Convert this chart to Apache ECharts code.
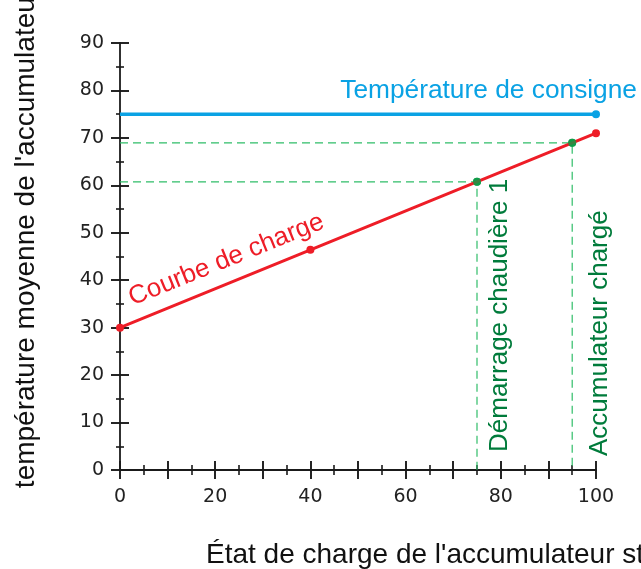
<!DOCTYPE html>
<html>
<head>
<meta charset="utf-8">
<script src="https://cdn.jsdelivr.net/npm/echarts@6/dist/echarts.min.js"></script>
<style>
html,body{margin:0;padding:0;background:#fff;}
#chart{width:641px;height:569px;}
</style>
</head>
<body>
<div id="chart"></div>
<script>
// ---- data ----
const xAxisName = "État de charge de l'accumulateur stratifié";
const yAxisName = "température moyenne de l'accumulateur";
const xTickLabels = [0, 20, 40, 60, 80, 100];
const yTickLabels = [0, 10, 20, 30, 40, 50, 60, 70, 80, 90];

const setpointName = 'Température de consigne';
const setpointX = [0, 100];
const setpointY = [75, 75];

const chargeName = 'Courbe de charge';
const chargeX = [0, 40, 100];
const chargeY = [30, 46.4, 71];

const markerNames = ['Démarrage chaudière 1', 'Accumulateur chargé'];
const markerX = [75, 95];
const markerY = [60.75, 68.95];

// ---- styles ----
const AXIS = '#1a1a1a';
const BLUE = '#0aa2e4';
const RED = '#ee1d27';
const GREEN_LINE = '#2fbd68';
const GREEN_DOT = '#0f9c49';
const GREEN_TEXT = '#007b3b';
const TXT_FONT = '"Liberation Sans", Arial, sans-serif';
const TICK_FONT = '"DejaVu Sans", Verdana, sans-serif';

const chart = echarts.init(document.getElementById('chart'), null, {renderer: 'canvas'});

function baseAxis(isX, outside) {
  return {
    type: 'value',
    gridIndex: 0,
    min: 0,
    max: isX ? 100 : 90,
    interval: 10,
    position: isX ? 'bottom' : 'left',
    axisLine: {show: outside, onZero: false, lineStyle: {color: AXIS, width: 1.8}},
    axisTick: {show: true, inside: !outside, length: 9, lineStyle: {color: AXIS, width: 1.9}},
    minorTick: {show: true, splitNumber: 2, length: isX ? 5 : 4, lineStyle: {color: AXIS, width: 1.6}},
    splitLine: {show: false},
    minorSplitLine: {show: false},
    axisLabel: {show: false},
    nameMoveOverlap: false
  };
}

const x0 = baseAxis(true, true);
x0.axisLabel = {
  show: true, margin: 18, color: '#222', fontSize: 19, fontFamily: TICK_FONT,
  formatter: v => (xTickLabels.indexOf(v) >= 0 ? String(v) : '')
};
x0.name = xAxisName;
x0.nameLocation = 'start';
x0.nameGap = -86;
x0.nameTextStyle = {
  color: '#111', fontSize: 28, fontFamily: TXT_FONT,
  align: 'left', verticalAlign: 'top', padding: [71, 0, 0, 0]
};
const x1 = baseAxis(true, false);

const y0 = baseAxis(false, true);
y0.axisLabel = {
  show: true, margin: 16, color: '#222', fontSize: 19, fontFamily: TICK_FONT,
  formatter: v => (yTickLabels.indexOf(v) >= 0 ? String(v) : '')
};
y0.name = yAxisName;
y0.nameLocation = 'middle';
y0.nameRotate = 90;
y0.nameGap = 80;
y0.nameTextStyle = {
  color: '#111', fontSize: 28, fontFamily: TXT_FONT, padding: [0, 0, 0, 37]
};
const y1 = baseAxis(false, false);

const setpointData = setpointX.map((x, i) => {
  const item = {value: [x, setpointY[i]]};
  if (i === 0) item.symbolSize = 0;
  if (i === setpointX.length - 1) {
    item.label = {
      show: true, formatter: setpointName, position: 'top', distance: 0,
      align: 'right', verticalAlign: 'bottom', offset: [41, -6],
      color: BLUE, fontSize: 26.3, fontFamily: TXT_FONT
    };
  }
  return item;
});

const chargeData = chargeX.map((x, i) => {
  const item = {value: [x, chargeY[i]]};
  if (i === 0) {
    item.label = {
      show: true, formatter: chargeName, position: 'inside', rotate: 22,
      align: 'left', verticalAlign: 'bottom', offset: [20, -10],
      color: RED, fontSize: 26, fontFamily: TXT_FONT
    };
  }
  return item;
});

// offsets are expressed in the rotated label frame
const labelOffsets = [[18, 10], [14, 15]];
const markerSeries = markerX.map((mx, i) => ({
  type: 'line',
  name: markerNames[i],
  xAxisIndex: 0, yAxisIndex: 0,
  z: 3,
  silent: true,
  animation: false,
  symbol: 'circle',
  symbolSize: 8,
  itemStyle: {color: GREEN_DOT},
  lineStyle: {color: GREEN_LINE, width: 1.2, type: [8, 5]},
  data: [
    {value: [0, markerY[i]], symbolSize: 0},
    {value: [mx, markerY[i]]},
    {value: [mx, 0], symbolSize: 0,
      label: {
        show: true, formatter: markerNames[i], position: 'inside', rotate: 90,
        align: 'left', verticalAlign: 'top', offset: labelOffsets[i],
        color: GREEN_TEXT, fontSize: 26, fontFamily: TXT_FONT
      }}
  ]
}));

const option = {
  animation: false,
  backgroundColor: '#ffffff',
  grid: {left: 120, right: 45, top: 43, bottom: 99, containLabel: false, outerBoundsMode: 'none'},
  xAxis: [x0, x1],
  yAxis: [y0, y1],
  series: [
    ...markerSeries,
    {
      type: 'line', name: setpointName, z: 4,
      symbol: 'circle', symbolSize: 8,
      itemStyle: {color: BLUE},
      lineStyle: {color: BLUE, width: 3.5},
      data: setpointData
    },
    {
      type: 'line', name: chargeName, z: 4,
      symbol: 'circle', symbolSize: 8,
      itemStyle: {color: RED},
      lineStyle: {color: RED, width: 3},
      data: chargeData
    },
    {
      type: 'scatter', name: 'points', z: 5,
      symbol: 'circle', symbolSize: 8,
      itemStyle: {color: GREEN_DOT},
      data: markerX.map((x, i) => [x, markerY[i]])
    }
  ]
};
chart.setOption(option);
</script>
</body>
</html>
